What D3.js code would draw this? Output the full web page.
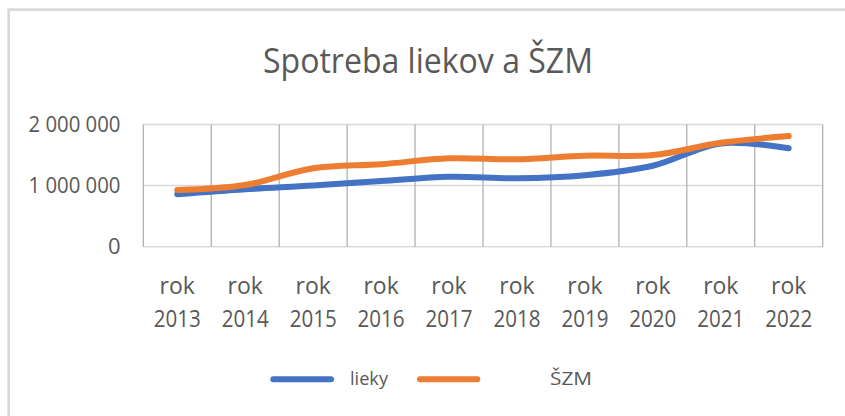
<!DOCTYPE html>
<html><head><meta charset="utf-8">
<script src="https://cdn.jsdelivr.net/npm/d3@7"></script>
<style>
html,body{margin:0;padding:0;background:#fff;}
svg{display:block;font-family:"Open Sans","Noto Sans",sans-serif;}
</style></head>
<body>
<svg id="chart" width="845" height="416"></svg>
<script>
const categories = ["rok 2013","rok 2014","rok 2015","rok 2016","rok 2017","rok 2018","rok 2019","rok 2020","rok 2021","rok 2022"];
const lieky = [858000, 940000, 1000000, 1075000, 1146000, 1120000, 1170000, 1325000, 1690000, 1610000];
const szm   = [928000, 1010000, 1283000, 1350000, 1447000, 1430000, 1490000, 1500000, 1700000, 1810000];
const yTicks = [0, 1000000, 2000000];
const seriesNames = ["lieky", "ŠZM"];
const title = "Spotreba liekov a ŠZM";

const svg = d3.select("#chart");
const textColor = "#595959";
const colors = ["#4472C4", "#ED7D31"];

// frame (top and left edges visible)
svg.append("path").attr("d","M8.7,416 V9.7 H845").attr("fill","none")
  .attr("stroke","#d9d9d9").attr("stroke-width",2.7);

const x = d3.scaleBand().domain(categories).range([143.3, 822.7]).padding(0);
const y = d3.scaleLinear().domain([0, 2000000]).range([246.7, 124.5]);
const cx = c => x(c) + x.bandwidth()/2;

// horizontal gridlines
svg.append("g").selectAll("line").data(yTicks).join("line")
  .attr("x1", x.range()[0]).attr("x2", x.range()[1])
  .attr("y1", d => y(d)).attr("y2", d => y(d))
  .attr("stroke", "#d9d9d9").attr("stroke-width", 1.5);

// vertical category separators
const seps = categories.map(c => x(c)).concat([x.range()[1]]);
svg.append("g").selectAll("line").data(seps).join("line")
  .attr("x1", d => d).attr("x2", d => d)
  .attr("y1", y(2000000)).attr("y2", y(0))
  .attr("stroke", "#ababab").attr("stroke-width", 1.2);

// y labels
const fmt = d => d3.format(",")(d).replace(/,/g, " ");
svg.append("g").selectAll("text").data(yTicks).join("text")
  .attr("x", 120.5).attr("y", d => y(d)).attr("dy", "0.35em")
  .attr("text-anchor", "end").attr("fill", textColor)
  .attr("font-size", 22)
  .each(function(d){
    const s = fmt(d);
    d3.select(this).text(s);
    if (s.length > 1) d3.select(this).attr("textLength", 92).attr("lengthAdjust","spacingAndGlyphs");
  });

// x labels
const xl = svg.append("g").selectAll("text").data(categories).join("text")
  .attr("text-anchor", "middle").attr("fill", textColor).attr("font-size", 23);
xl.append("tspan").attr("x", d => cx(d)).attr("y", 293.7).text(d => d.split(" ")[0]);
xl.append("tspan").attr("x", d => cx(d)).attr("y", 327).text(d => d.split(" ")[1])
  .attr("textLength", 47).attr("lengthAdjust","spacingAndGlyphs");

// lines
const line = d3.line().x((d,i) => cx(categories[i])).y(d => y(d)).curve(d3.curveCatmullRom.alpha(0.5));
[lieky, szm].forEach((s, k) => {
  svg.append("path").attr("d", line(s)).attr("fill","none")
    .attr("stroke", colors[k]).attr("stroke-width", 6)
    .attr("stroke-linecap","round").attr("stroke-linejoin","round");
});

// title
svg.append("text").attr("x", 428).attr("y", 73.3).attr("text-anchor","middle")
  .attr("fill", textColor).attr("font-size", 35)
  .attr("textLength", 330).attr("lengthAdjust","spacingAndGlyphs").text(title);

// legend
const legend = [
  {x1: 273.3, x2: 331, tx: 350, tw: 38},
  {x1: 420, x2: 477.3, tx: 550, tw: 42}
];
legend.forEach((l, k) => {
  svg.append("line").attr("x1", l.x1).attr("x2", l.x2).attr("y1", 379.3).attr("y2", 379.3)
    .attr("stroke", colors[k]).attr("stroke-width", 6).attr("stroke-linecap","round");
  svg.append("text").attr("x", l.tx).attr("y", 385).attr("fill", textColor)
    .attr("font-size", 19).attr("textLength", l.tw).attr("lengthAdjust","spacingAndGlyphs")
    .text(seriesNames[k]);
});
</script>
</body></html>
